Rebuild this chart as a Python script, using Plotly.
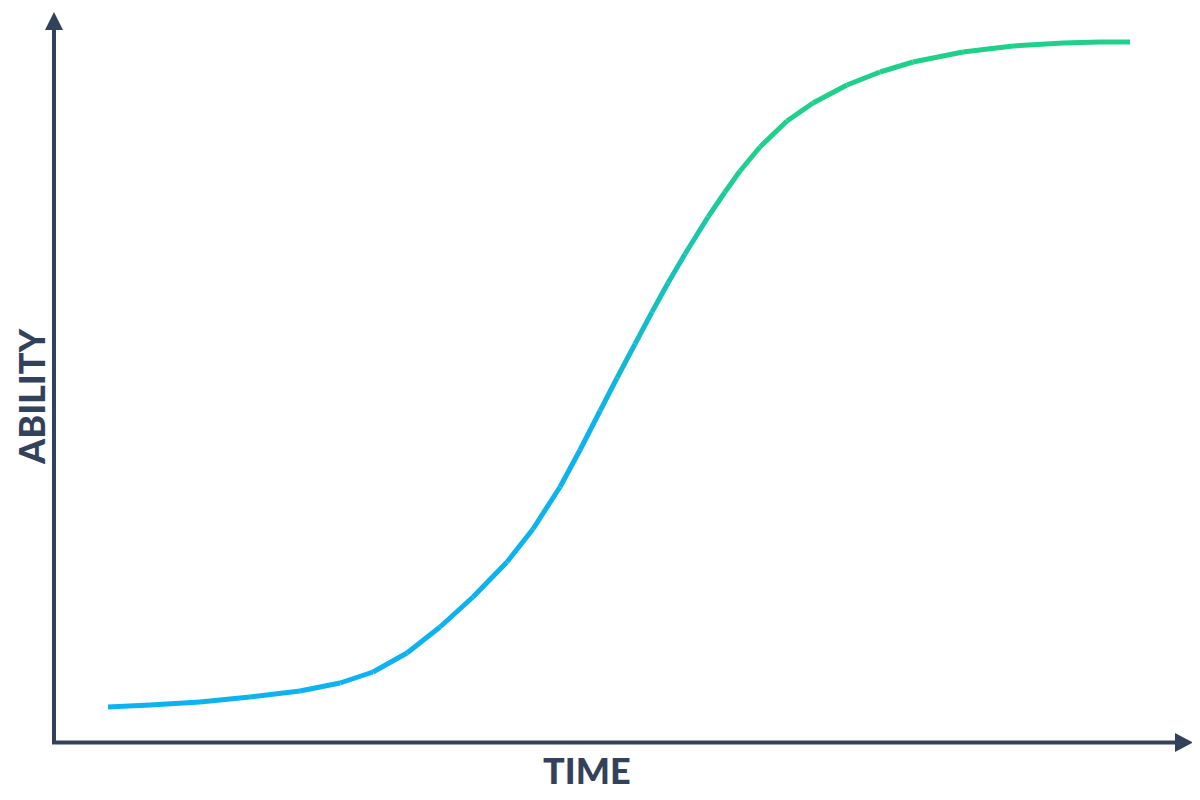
import plotly.graph_objects as go

# Data (time on x, ability on y; arbitrary units)
time = [108, 150, 200, 250, 300, 340, 373, 407, 440, 473, 507, 533, 560, 580, 600,
        617, 635, 652, 668, 685, 708, 725, 740, 760, 787, 813, 847, 880, 913, 963,
        1013, 1063, 1100, 1130]
ability = [93, 95, 98, 103, 109, 117, 128, 147, 173, 203, 238, 271, 313, 350, 389,
           422, 456, 488, 517, 546, 583, 608, 629, 653, 679, 697, 715, 728, 738, 748,
           754, 757, 758, 758]

x_label = "TIME"
y_label = "ABILITY"

AXIS = "#33425b"
C0 = (14, 178, 238)   # blue
C1 = (32, 208, 138)   # green


def mix(t):
    t = max(0.0, min(1.0, t))
    r, g, b = (round(a + (b_ - a) * t) for a, b_ in zip(C0, C1))
    return f"rgb({r},{g},{b})"


fig = go.Figure()
n = len(time)
for i in range(n - 1):
    mid = (ability[i] + ability[i + 1]) / 2
    t = (mid - 370) / (650 - 370)
    fig.add_trace(go.Scatter(
        x=[time[i], time[i + 1]], y=[ability[i], ability[i + 1]],
        mode="lines", line=dict(color=mix(t), width=5),
        hoverinfo="skip", showlegend=False))

# axes with arrows (pixel-like units)
fig.add_shape(type="line", x0=54, y0=56, x1=54, y1=775, line=dict(color=AXIS, width=4), layer="below")
fig.add_shape(type="line", x0=52, y0=57.5, x1=1177, y1=57.5, line=dict(color=AXIS, width=4), layer="below")
fig.add_shape(type="path", path="M 45 770 L 63 770 L 54 788 Z", fillcolor=AXIS, line=dict(width=0))
fig.add_shape(type="path", path="M 1175 67 L 1175 48 L 1193 57.5 Z", fillcolor=AXIS, line=dict(width=0))

FONT = dict(family="Lato Black, Lato", size=36, color=AXIS, weight=900)
fig.add_annotation(x=587, y=30, text=x_label, showarrow=False, font=FONT,
                   xanchor="center", yanchor="middle")
fig.add_annotation(x=31, y=404, text=y_label, showarrow=False, textangle=-90, font=FONT,
                   xanchor="center", yanchor="middle")

fig.update_layout(
    width=1200, height=800,
    margin=dict(l=0, r=0, t=0, b=0),
    paper_bgcolor="white", plot_bgcolor="white",
    xaxis=dict(range=[8, 1208], visible=False, fixedrange=True),
    yaxis=dict(range=[-8, 792], visible=False, fixedrange=True),
)

fig.write_html("out.html")
